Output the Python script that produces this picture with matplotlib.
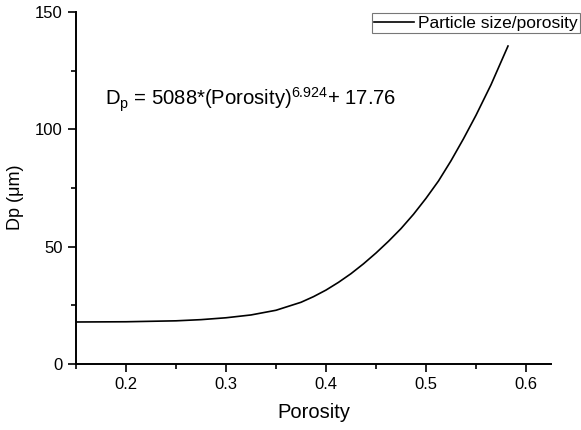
import matplotlib
matplotlib.use('Agg')
import matplotlib.pyplot as plt
from matplotlib.ticker import MultipleLocator

plt.rcParams['font.family'] = ['Liberation Sans', 'DejaVu Sans']

# values
porosity = [0.15, 0.20, 0.25, 0.275, 0.30, 0.325, 0.35, 0.375, 0.3875, 0.40,
            0.4125, 0.425, 0.4375, 0.45, 0.4625, 0.475, 0.4875, 0.50, 0.5125,
            0.525, 0.5375, 0.55, 0.565, 0.582]
dp = [17.9, 18.0, 18.4, 18.9, 19.7, 20.9, 22.9, 26.3, 28.7, 31.5,
      34.8, 38.5, 42.7, 47.3, 52.3, 57.7, 63.8, 70.6, 78.0,
      86.6, 96.0, 106.0, 119.0, 135.5]

series_label = 'Particle size/porosity'
equation = r'D$_\mathregular{p}$ = 5088*(Porosity)$^\mathregular{6.924}$+ 17.76'

fig = plt.figure(figsize=(5.81, 4.30), dpi=100)
ax = fig.add_axes([76/581, 66/430, 475/581, 352/430])

ax.plot(porosity, dp, color='black', lw=1.2, label=series_label)

ax.set_xlim(0.15, 0.625)
ax.set_ylim(0, 150)
ax.xaxis.set_major_locator(MultipleLocator(0.1))
ax.xaxis.set_minor_locator(MultipleLocator(0.05))
ax.yaxis.set_major_locator(MultipleLocator(50))
ax.yaxis.set_minor_locator(MultipleLocator(25))

for s in ['top', 'right']:
    ax.spines[s].set_visible(False)
for s in ['left', 'bottom']:
    ax.spines[s].set_linewidth(1.4)
ax.tick_params(which='major', direction='out', length=5.5, width=1.2, labelsize=12, pad=4)
ax.tick_params(which='minor', direction='out', length=3.5, width=1.2)

ax.set_xlabel('Porosity', fontsize=14.5, labelpad=8)
ax.set_ylabel('Dp (\u03bcm)', fontsize=13, labelpad=8)
ax.yaxis.set_label_coords(-0.11, 0.475)

ax.text(105/581, 1 - 100/430, equation, transform=fig.transFigure,
        fontsize=14.6, va='center', ha='left')

leg = fig.legend(loc='upper right', bbox_to_anchor=(580/581, 1 - 13/430),
                 fontsize=12.5, frameon=True, fancybox=False, borderpad=0.15,
                 handlelength=2.3, handletextpad=0.2, borderaxespad=0)
leg.get_frame().set_edgecolor('#555555')
leg.get_frame().set_linewidth(0.8)

fig.savefig('out.png', dpi=100)
